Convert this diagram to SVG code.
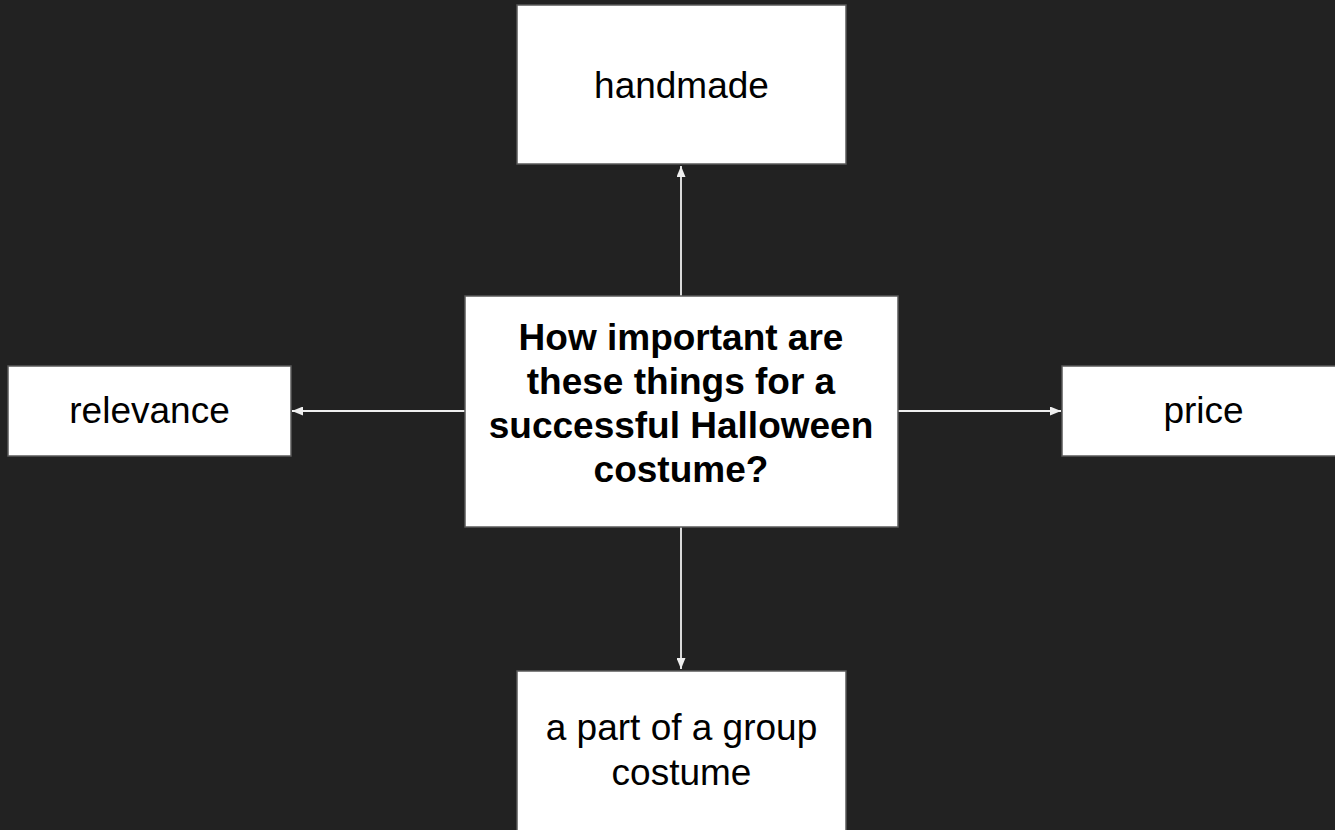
<svg xmlns="http://www.w3.org/2000/svg" width="1335" height="830" viewBox="0 0 1335 830">
  <defs>
    <style>
      .box { fill: #ffffff; stroke: #5a5a5a; stroke-width: 1.5; }
      .t { font-family: "Liberation Sans", Arial, sans-serif; font-size: 37px; fill: #000000; text-anchor: middle; }
      .b { font-weight: bold; }
      .conn { stroke: #efefef; stroke-width: 1.8; fill: none; marker-end: url(#arrow); }
    </style>
    <marker id="arrow" markerUnits="userSpaceOnUse" viewBox="0 0 11 9" refX="11" refY="4.5" markerWidth="11" markerHeight="9" orient="auto">
      <path d="M0,0 L11,4.5 L0,9 Z" fill="#efefef"/>
    </marker>
  </defs>
  <rect x="0" y="0" width="1335" height="830" fill="#222222"/>

  <g id="connectors">
    <line class="conn" x1="681" y1="296" x2="681" y2="166"/>
    <line class="conn" x1="681" y1="527" x2="681" y2="669"/>
    <line class="conn" x1="465" y1="411" x2="292" y2="411"/>
    <line class="conn" x1="898" y1="411" x2="1061" y2="411"/>
  </g>

  <g id="center">
    <rect class="box" x="465" y="296" width="433" height="231"/>
    <text class="t b" x="681" y="350">How important are</text>
    <text class="t b" x="681" y="394">these things for a</text>
    <text class="t b" x="681" y="438">successful Halloween</text>
    <text class="t b" x="681" y="482">costume?</text>
  </g>

  <g id="handmade">
    <rect class="box" x="517" y="5" width="329" height="159"/>
    <text class="t" x="681.5" y="98">handmade</text>
  </g>

  <g id="relevance">
    <rect class="box" x="8" y="366" width="283" height="90"/>
    <text class="t" x="149.5" y="423">relevance</text>
  </g>

  <g id="price">
    <rect class="box" x="1062" y="366" width="283" height="90"/>
    <text class="t" x="1203.5" y="423">price</text>
  </g>

  <g id="group">
    <rect class="box" x="517" y="671" width="329" height="170"/>
    <text class="t" x="681.5" y="740">a part of a group</text>
    <text class="t" x="681.5" y="785">costume</text>
  </g>
</svg>
